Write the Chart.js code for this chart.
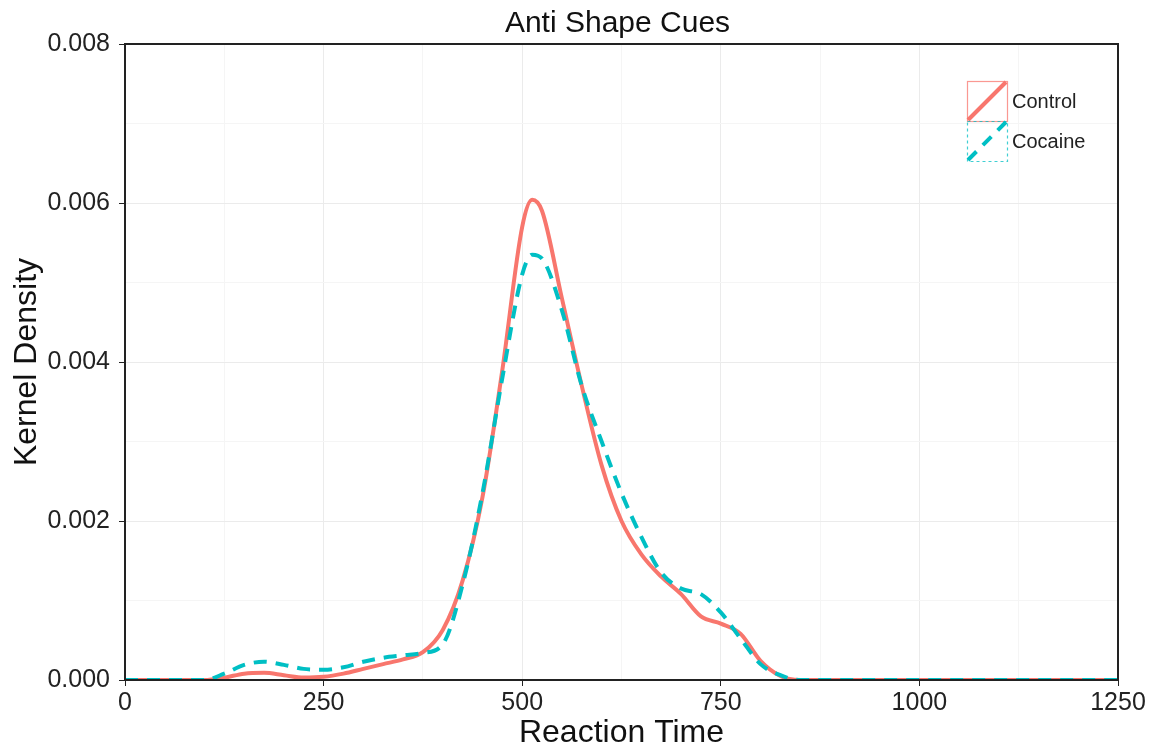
<!DOCTYPE html>
<html>
<head>
<meta charset="utf-8">
<title>Anti Shape Cues</title>
<script src="https://cdn.jsdelivr.net/npm/chart.js@4.4.1/dist/chart.umd.min.js"></script>
<style>
  html, body { margin: 0; padding: 0; background: #fff; }
  #wrap { width: 1159px; height: 755px; position: relative; }
</style>
</head>
<body>
<div id="wrap"><canvas id="densityChart"></canvas></div>
<script>
// reaction times (x) the density was read at
const reactionTimes = [0, 50, 100, 125, 150, 175, 200, 225, 250, 275, 300, 325, 350, 375, 400, 425, 450, 475, 500, 512.5,
    525, 550, 575, 600, 625, 650, 675, 700, 725, 750, 775, 800, 825, 850, 900, 1000, 1250];

const controlDensity = [0, 0, 0, 0.00003, 0.00008, 0.00009, 0.00006, 0.00003, 0.00004, 0.00008, 0.00014, 0.0002, 0.00026, 0.00035, 0.00063, 0.00125, 0.0023, 0.0039, 0.0057, 0.00604,
    0.0059, 0.0048, 0.0037, 0.0027, 0.002, 0.00158, 0.0013, 0.00108, 0.0008, 0.00071, 0.00058, 0.00024, 0.00005, 0, 0, 0, 0];

const cocaineDensity = [0, 0, 0, 0.00008, 0.00019, 0.00023, 0.00019, 0.00014, 0.00013, 0.00016, 0.00023, 0.00028, 0.00031, 0.00034, 0.00045, 0.0012, 0.00235, 0.0038, 0.0051, 0.00535,
    0.0053, 0.00465, 0.0037, 0.003, 0.00235, 0.0018, 0.00135, 0.00115, 0.00108, 0.00085, 0.00052, 0.0002, 0.00006, 0, 0, 0, 0];

const seriesNames = ['Control', 'Cocaine'];
const xTicks = [0, 250, 500, 750, 1000, 1250];
const yTicks = [0, 0.002, 0.004, 0.006, 0.008];

const RED = '#F8766D';
const CYAN = '#00BFC4';
const FONT = "'Liberation Sans', Arial, Helvetica, sans-serif";

const toPoints = ys => reactionTimes.map((x, i) => ({ x: x, y: ys[i] }));

// major ticks get labels and tick marks, minor ones only a faint grid line
const isMajorX = v => xTicks.includes(Math.round(v));
const isMajorY = v => yTicks.some(t => Math.abs(t - v) < 1e-7);

// panel frame, title and the ggplot-like legend keys
const panelPlugin = {
    id: 'panelExtras',
    afterDraw(chart) {
        const ctx = chart.ctx;
        const a = chart.chartArea;
        ctx.save();
        ctx.strokeStyle = '#222';
        ctx.lineWidth = 2;
        ctx.strokeRect(a.left, a.top, a.right - a.left, a.bottom - a.top);

        ctx.fillStyle = '#111';
        ctx.font = '30px ' + FONT;
        ctx.textAlign = 'center';
        ctx.textBaseline = 'middle';
        ctx.fillText('Anti Shape Cues', (a.left + a.right) / 2 - 4, 24);

        const keyX = 967, keyY = 81, keySize = 40;
        const colors = [RED, CYAN];
        seriesNames.forEach((name, i) => {
            const y0 = keyY + i * keySize;
            ctx.lineWidth = 1.2;
            ctx.strokeStyle = colors[i];
            ctx.globalAlpha = 0.75;
            ctx.setLineDash(i === 1 ? [3, 3] : []);
            ctx.strokeRect(keyX + 0.5, y0 + 0.5, keySize, keySize);
            ctx.globalAlpha = 1;
            ctx.lineWidth = 4;
            ctx.setLineDash(i === 1 ? [12, 9] : []);
            ctx.beginPath();
            ctx.moveTo(keyX + 1, y0 + keySize - 1);
            ctx.lineTo(keyX + keySize - 1, y0 + 1);
            ctx.stroke();
            ctx.setLineDash([]);
            ctx.fillStyle = '#222';
            ctx.font = '20px ' + FONT;
            ctx.textAlign = 'left';
            ctx.fillText(name, keyX + keySize + 5, y0 + keySize / 2 + 1);
        });
        ctx.restore();
    }
};

new Chart(document.getElementById('densityChart'), {
    type: 'line',
    data: {
        datasets: [
            {
                label: seriesNames[0], data: toPoints(controlDensity),
                borderColor: RED, borderWidth: 4, fill: false, order: 2,
                cubicInterpolationMode: 'monotone', pointRadius: 0
            },
            {
                label: seriesNames[1], data: toPoints(cocaineDensity),
                borderColor: CYAN, borderWidth: 4, borderDash: [13, 9], fill: false, order: 1,
                cubicInterpolationMode: 'monotone', pointRadius: 0
            }
        ]
    },
    options: {
        responsive: true,
        maintainAspectRatio: false,
        animation: false,
        layout: { padding: { top: 44, right: 41, left: 0, bottom: 0 } },
        plugins: {
            legend: { display: false },
            title: { display: false },
            tooltip: { enabled: false }
        },
        scales: {
            x: {
                type: 'linear',
                min: 0, max: 1250,
                afterBuildTicks: scale => {
                    scale.ticks = [];
                    for (let v = 0; v <= 1250; v += 125) scale.ticks.push({ value: v });
                },
                afterFit: scale => { scale.height = 75; },
                ticks: {
                    color: '#222', font: { family: FONT, size: 25 }, padding: 2, maxRotation: 0,
                    autoSkip: false,
                    callback: v => isMajorX(v) ? String(v) : ''
                },
                grid: {
                    color: ctx => isMajorX(ctx.tick.value) ? '#ebebeb' : '#f5f5f5',
                    tickColor: ctx => isMajorX(ctx.tick.value) ? '#222' : 'rgba(0,0,0,0)',
                    tickLength: 6,
                    lineWidth: 1
                },
                border: { color: '#222', width: 2 },
                title: {
                    display: true, text: 'Reaction Time', color: '#111',
                    font: { family: FONT, size: 32 }, padding: { top: 0, bottom: 3 }
                }
            },
            y: {
                min: 0, max: 0.008,
                afterBuildTicks: scale => {
                    scale.ticks = [];
                    for (let k = 0; k <= 8; k++) scale.ticks.push({ value: k / 1000 });
                },
                afterFit: scale => { scale.width = 125; },
                ticks: {
                    color: '#222', font: { family: FONT, size: 25 }, padding: 9,
                    autoSkip: false,
                    callback: v => isMajorY(v) ? v.toFixed(3) : ''
                },
                grid: {
                    color: ctx => isMajorY(ctx.tick.value) ? '#ebebeb' : '#f5f5f5',
                    tickColor: ctx => isMajorY(ctx.tick.value) ? '#222' : 'rgba(0,0,0,0)',
                    tickLength: 6,
                    lineWidth: 1
                },
                border: { color: '#222', width: 2 },
                title: {
                    display: true, text: 'Kernel Density', color: '#111',
                    font: { family: FONT, size: 32 }, padding: { top: 8, bottom: 0 }
                }
            }
        }
    },
    plugins: [panelPlugin]
});
</script>
</body>
</html>
